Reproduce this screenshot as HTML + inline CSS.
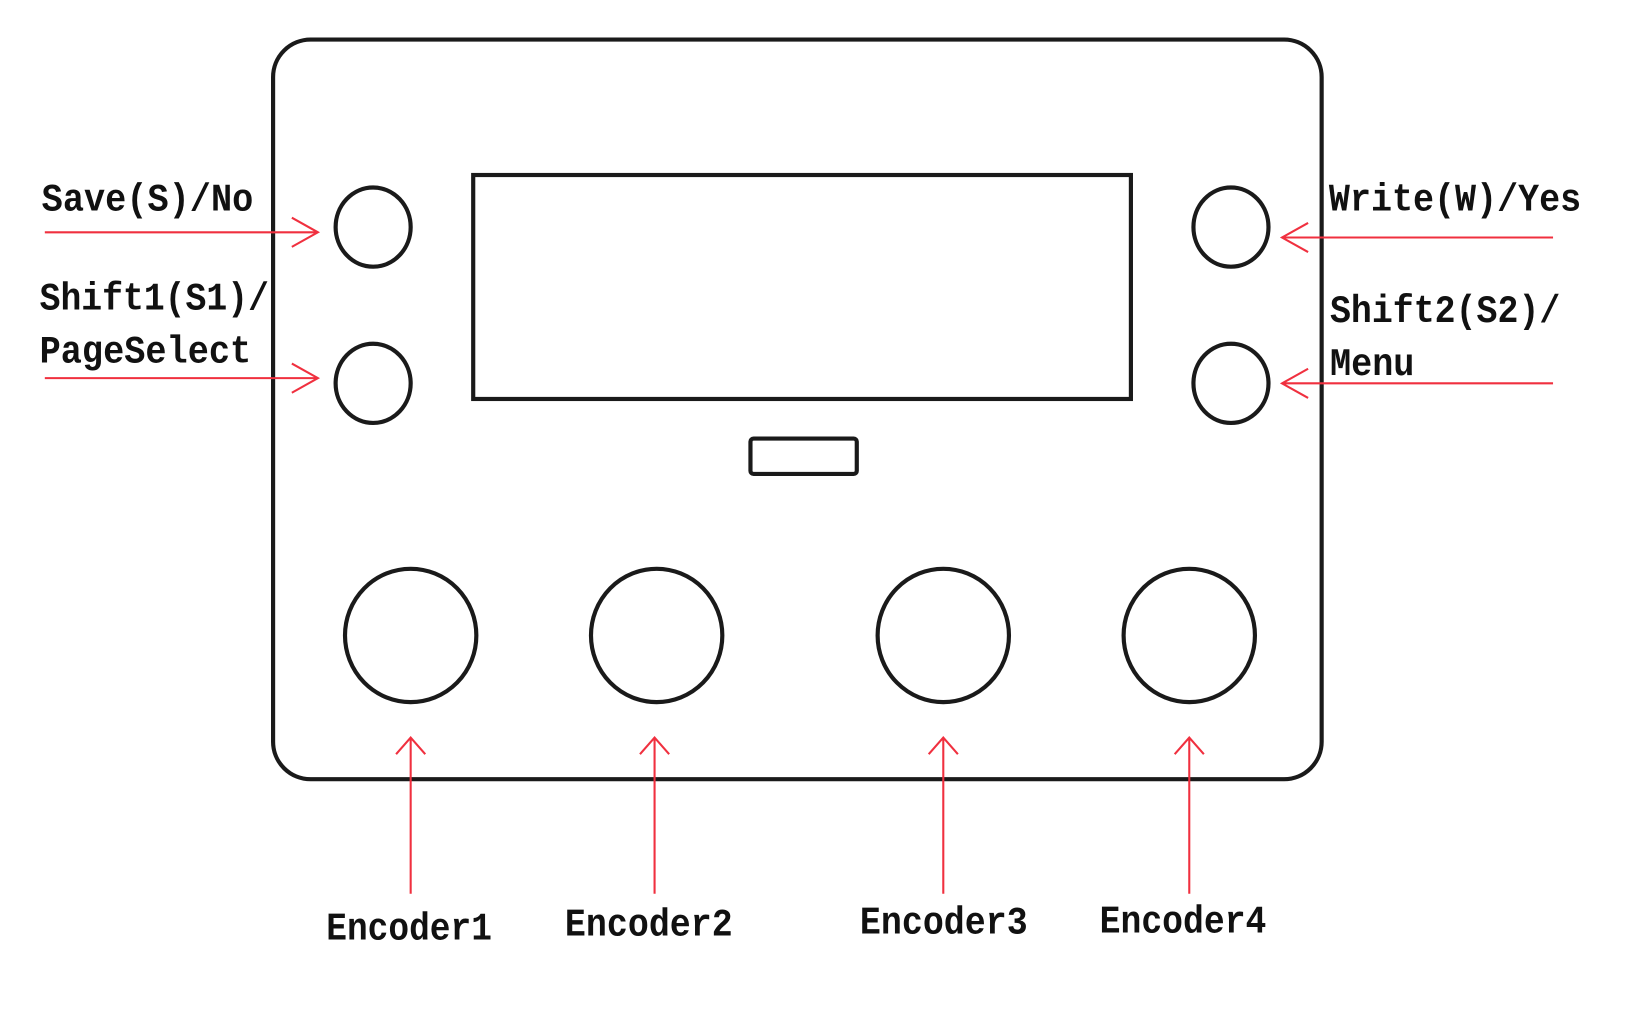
<!DOCTYPE html>
<html><head><meta charset="utf-8"><style>
html,body{margin:0;padding:0;background:#fff;}
svg{display:block;}
text{font-family:"Liberation Mono",monospace;font-weight:bold;font-size:37px;fill:#111;}
</style></head><body>
<svg width="1626" height="1024" viewBox="0 0 1560 983" preserveAspectRatio="none">
<g fill="none" stroke="#1a1a1a" stroke-width="4">
<rect x="262" y="38" width="1006" height="710" rx="36"/>
<rect x="454" y="168" width="631" height="215"/>
<rect x="720" y="421" width="102" height="34" rx="3"/>
<ellipse cx="358" cy="218" rx="36" ry="38"/>
<ellipse cx="358" cy="368" rx="36" ry="38"/>
<ellipse cx="1181" cy="218" rx="36" ry="38"/>
<ellipse cx="1181" cy="368" rx="36" ry="38"/>
<ellipse cx="394" cy="610" rx="63" ry="64"/>
<ellipse cx="630" cy="610" rx="63" ry="64"/>
<ellipse cx="905" cy="610" rx="63" ry="64"/>
<ellipse cx="1141" cy="610" rx="63" ry="64"/>
</g>
<g fill="none" stroke="#f0303f" stroke-width="2">
<path d="M43 223H305M280 209L305 223L280 237"/>
<path d="M43 363H305M280 349L305 363L280 377"/>
<path d="M1490 228H1230M1255 214L1230 228L1255 242"/>
<path d="M1490 368H1230M1255 354L1230 368L1255 382"/>
<path d="M394 858V708M380 724L394 708L408 724"/>
<path d="M628 858V708M614 724L628 708L642 724"/>
<path d="M905 858V708M891 724L905 708L919 724"/>
<path d="M1141 858V708M1127 724L1141 708L1155 724"/>
</g>
<text x="40" y="202" textLength="203" lengthAdjust="spacingAndGlyphs">Save(S)/No</text>
<text x="38" y="297" textLength="220" lengthAdjust="spacingAndGlyphs">Shift1(S1)/</text>
<text x="38" y="348" textLength="203" lengthAdjust="spacingAndGlyphs">PageSelect</text>
<text x="1275" y="202" textLength="242" lengthAdjust="spacingAndGlyphs">Write(W)/Yes</text>
<text x="1276" y="309" textLength="221" lengthAdjust="spacingAndGlyphs">Shift2(S2)/</text>
<text x="1276" y="360" textLength="81" lengthAdjust="spacingAndGlyphs">Menu</text>
<text x="313" y="902" textLength="159" lengthAdjust="spacingAndGlyphs">Encoder1</text>
<text x="542" y="898" textLength="161" lengthAdjust="spacingAndGlyphs">Encoder2</text>
<text x="825" y="896" textLength="161" lengthAdjust="spacingAndGlyphs">Encoder3</text>
<text x="1055" y="895" textLength="160" lengthAdjust="spacingAndGlyphs">Encoder4</text>
</svg>
</body></html>
